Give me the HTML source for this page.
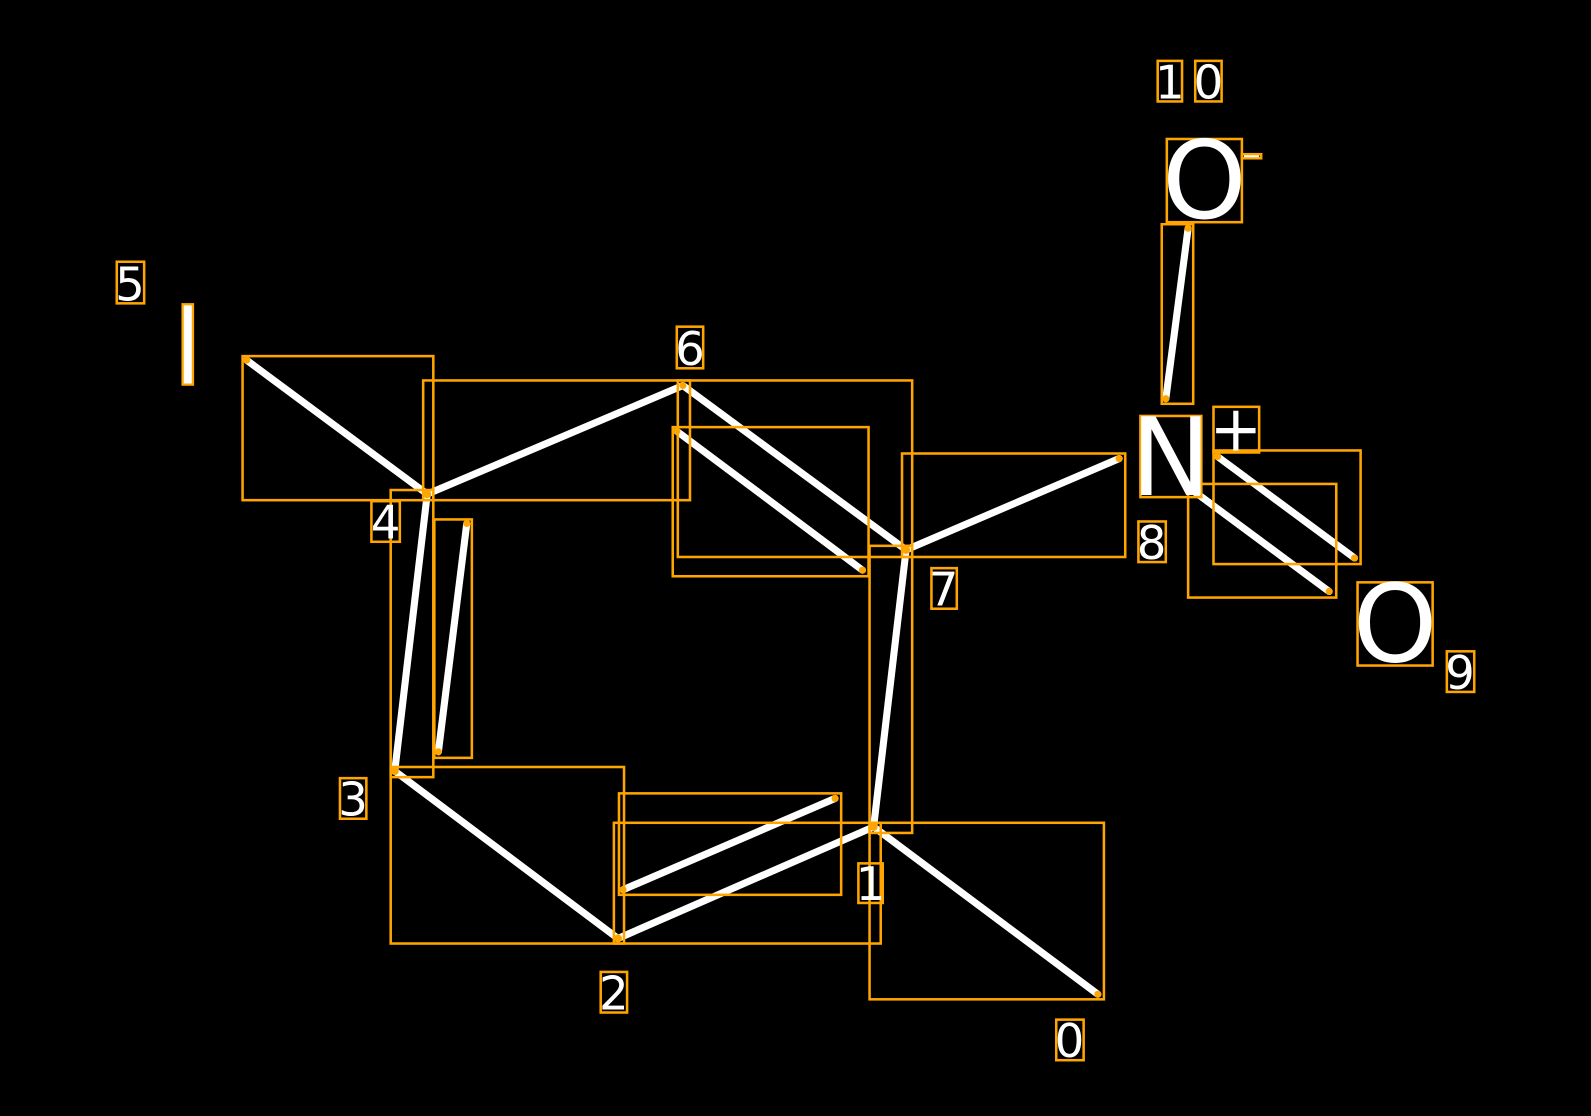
<!DOCTYPE html>
<html><head><meta charset="utf-8"><style>
html,body{margin:0;padding:0;background:#000;}
svg{display:block;}
text{font-family:"DejaVu Sans","Liberation Sans",sans-serif;fill:#fff;}
</style></head><body>
<svg width="1591" height="1116" viewBox="0 0 1568 1100" xmlns="http://www.w3.org/2000/svg">
<rect width="1568" height="1100" fill="#000"/>
<g stroke="#fff" stroke-width="7" stroke-linecap="round">
<line x1="243" y1="355" x2="421" y2="487"/>
<line x1="421" y1="487" x2="673" y2="380"/>
<line x1="673" y1="380" x2="893" y2="542"/>
<line x1="667" y1="425" x2="850" y2="562"/>
<line x1="893" y1="542" x2="1103" y2="452"/>
<line x1="893" y1="542" x2="861" y2="815"/>
<line x1="861" y1="815" x2="1082" y2="980"/>
<line x1="861" y1="815" x2="609" y2="925"/>
<line x1="614" y1="877" x2="823" y2="787"/>
<line x1="609" y1="925" x2="389" y2="760"/>
<line x1="389" y1="760" x2="421" y2="487"/>
<line x1="432" y1="741" x2="460" y2="516"/>
<line x1="1149" y1="393" x2="1171" y2="225"/>
<line x1="1175" y1="483" x2="1310" y2="583"/>
<line x1="1200" y1="450" x2="1335" y2="550"/>
</g>
<g fill="none" stroke="#FFA500" stroke-width="2.5">
<rect x="239" y="351" width="188" height="142"/>
<rect x="417" y="375" width="263" height="118"/>
<rect x="668" y="375" width="231" height="174"/>
<rect x="663" y="421" width="193" height="147"/>
<rect x="889" y="447" width="220" height="102"/>
<rect x="857" y="538" width="42" height="283"/>
<rect x="857" y="811" width="231" height="174"/>
<rect x="605" y="811" width="263" height="119"/>
<rect x="610" y="782" width="219" height="100"/>
<rect x="385" y="756" width="230" height="174"/>
<rect x="385" y="483" width="42" height="283"/>
<rect x="428" y="512" width="37" height="235"/>
<rect x="1145" y="221" width="31" height="177"/>
<rect x="1171" y="477" width="146" height="112"/>
<rect x="1196" y="444" width="145" height="112"/>
<rect x="180" y="300" width="10" height="79"/>
<rect x="1150" y="137" width="74" height="82"/>
<rect x="1224" y="152" width="19" height="4"/>
<rect x="1124" y="410" width="60" height="80"/>
<rect x="1196" y="401" width="45" height="45"/>
<rect x="1338" y="574" width="74" height="82"/>
<rect x="115" y="258" width="27" height="41"/>
<rect x="667" y="322" width="26" height="41"/>
<rect x="366" y="494" width="28" height="40"/>
<rect x="335" y="767" width="26" height="40"/>
<rect x="592" y="958" width="26" height="40"/>
<rect x="846" y="851" width="24" height="39"/>
<rect x="1041" y="1005" width="27" height="40"/>
<rect x="918" y="560" width="25" height="40"/>
<rect x="1122" y="514" width="27" height="40"/>
<rect x="1426" y="642" width="27" height="40"/>
<rect x="1141" y="60" width="24" height="40"/>
<rect x="1178" y="60" width="26" height="40"/>
</g>
<g fill="#FFA500">
<circle cx="243" cy="355" r="3.5"/><circle cx="421" cy="487" r="4"/><circle cx="673" cy="380" r="3.5"/>
<circle cx="667" cy="425" r="3.5"/><circle cx="850" cy="562" r="3.5"/><circle cx="893" cy="542" r="4"/>
<circle cx="1103" cy="452" r="3.5"/><circle cx="861" cy="815" r="4"/><circle cx="1082" cy="980" r="3.5"/>
<circle cx="609" cy="925" r="4"/><circle cx="614" cy="877" r="3.5"/><circle cx="823" cy="787" r="3.5"/>
<circle cx="389" cy="760" r="4"/><circle cx="432" cy="741" r="3.5"/><circle cx="460" cy="516" r="3.5"/>
<circle cx="1149" cy="393" r="3.5"/><circle cx="1171" cy="225" r="3.5"/><circle cx="1175" cy="483" r="4"/>
<circle cx="1310" cy="583" r="3.5"/><circle cx="1200" cy="450" r="3.5"/><circle cx="1335" cy="550" r="3.5"/>
</g>
<rect x="181" y="301" width="8" height="77" fill="#fff"/>
<text x="1187" y="215" font-size="106" text-anchor="middle">O</text>
<rect x="1226" y="153" width="15" height="2" fill="#fff"/>
<text x="1154" y="488" font-size="106" text-anchor="middle">N</text>
<text x="1218" y="444" font-size="62" text-anchor="middle">+</text>
<text x="1375" y="652" font-size="106" text-anchor="middle">O</text>
<g font-size="46" text-anchor="middle">
<text x="128" y="296">5</text>
<text x="680" y="360">6</text>
<text x="380" y="531">4</text>
<text x="348" y="804">3</text>
<text x="605" y="995">2</text>
<text x="858" y="887">1</text>
<text x="1054" y="1042">0</text>
<text x="930" y="597">7</text>
<text x="1135" y="551">8</text>
<text x="1439" y="679">9</text>
<text x="1153" y="97">1</text>
<text x="1191" y="97">0</text>
</g>
</svg>
</body></html>
